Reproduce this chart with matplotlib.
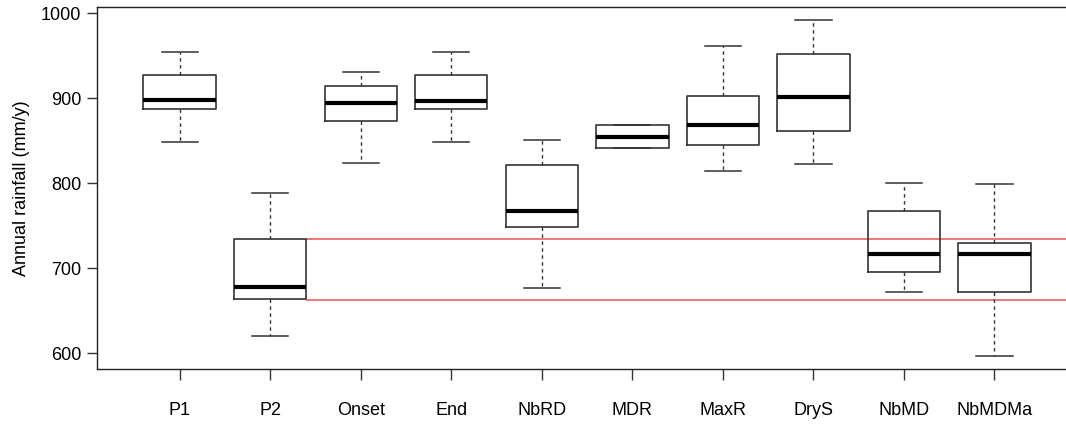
import matplotlib
matplotlib.use("Agg")
import matplotlib.pyplot as plt

plt.rcParams['font.family'] = ['Liberation Sans', 'DejaVu Sans']

categories = ["P1", "P2", "Onset", "End", "NbRD", "MDR", "MaxR", "DryS", "NbMD", "NbMDMa"]
whislo = [848, 620, 824, 848, 677, 841, 815, 823, 672, 597]
q1     = [887, 664, 873, 887, 748, 841, 845, 862, 696, 672]
med    = [898, 678, 894, 897, 767, 855, 869, 902, 717, 717]
q3     = [927, 734, 915, 927, 822, 868, 903, 952, 767, 730]
whishi = [954, 788, 931, 954, 851, 868, 962, 992, 800, 799]
ref_lines = [734.5, 662.7]

fig = plt.figure(figsize=(10.66, 4.24), dpi=100)
ax = fig.add_axes([97.3/1066, 1-369/424, 1.0 - 97.3/1066 + 0.02, (369-7.3)/424])

stats = []
for i, c in enumerate(categories):
    stats.append(dict(label=c, whislo=whislo[i], q1=q1[i], med=med[i], q3=q3[i], whishi=whishi[i], fliers=[]))

positions = list(range(1, len(categories) + 1))
ax.bxp(stats, positions=positions, widths=0.8, capwidths=0.4, showfliers=False,
       boxprops=dict(color='#333333', linewidth=1.2),
       medianprops=dict(color='black', linewidth=3.0, solid_capstyle='butt'),
       whiskerprops=dict(color='#333333', linewidth=1.0, linestyle=(0, (2.5, 2.5))),
       capprops=dict(color='#333333', linewidth=1.1))

ax.hlines(ref_lines, 2.4, 12, colors='#ee6b6b', linewidth=1.3, zorder=0.5)

ax.set_xlim(0.09, 10.79 + 0.02 * 1066 / 90.55)
ax.set_ylim(581.5, 1007)
ax.set_yticks([600, 700, 800, 900, 1000])
ax.set_xticks(positions)
ax.set_xticklabels(categories)
ax.tick_params(axis='x', length=8, width=1, pad=16, labelsize=13, color='#333333')
ax.tick_params(axis='y', length=7.5, width=1, pad=4, labelsize=13, color='#333333')
ax.set_ylabel("Annual rainfall (mm/y)", fontsize=13, labelpad=8)
for s in ['left', 'top', 'bottom']:
    ax.spines[s].set_linewidth(1.0)
    ax.spines[s].set_color('#222222')
ax.spines['right'].set_visible(False)

fig.savefig("out.png", dpi=100)
